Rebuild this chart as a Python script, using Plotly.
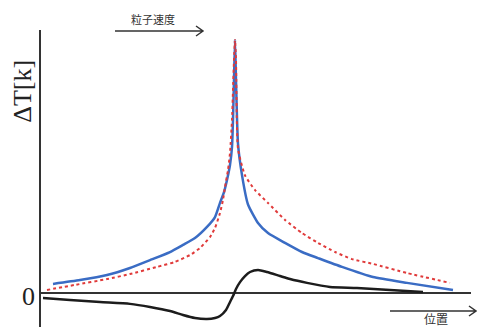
import plotly.graph_objects as go

# Position (arbitrary units, peak at 0) and ΔT [K]
blue_x = [-18.2, -15.5, -12.8, -10.5, -8.5, -6.5, -5.2, -4.0, -2.8, -2.0, -1.5, -1.1, -0.8, -0.5, -0.3, -0.2, -0.1, 0.0,
          0.1, 0.3, 0.7, 1.3, 2.3, 3.3, 5.0, 6.7, 8.3, 10.7, 13.8, 17.2, 21.8]
blue_y = [0.36, 0.51, 0.71, 0.99, 1.30, 1.62, 1.90, 2.17, 2.61, 3.00, 3.56, 3.99, 4.47, 5.06, 5.77, 6.84, 8.42, 10.0,
          8.42, 5.90, 4.66, 3.50, 2.77, 2.37, 1.98, 1.62, 1.38, 1.03, 0.63, 0.40, 0.12]

red_x = [-18.8, -16.0, -12.8, -10.5, -7.8, -6.0, -4.5, -3.5, -2.5, -2.0, -1.5, -1.2, -1.0, -0.7, -0.5, -0.3, -0.2, -0.1, 0.0,
         0.1, 0.3, 1.0, 2.0, 3.3, 5.0, 6.7, 8.3, 10.0, 11.7, 13.8, 17.2, 21.5]
red_y = [0.12, 0.32, 0.55, 0.75, 1.03, 1.23, 1.50, 1.78, 2.21, 2.57, 3.16, 3.68, 4.19, 4.86, 5.53, 6.84, 8.02, 9.21, 10.0,
         9.21, 5.70, 4.65, 4.07, 3.56, 2.89, 2.37, 1.98, 1.62, 1.34, 1.15, 0.79, 0.40]

black_x = [-19.2, -16.5, -13.5, -10.5, -8.5, -6.5, -5.2, -4.0, -2.8, -2.0, -1.5, -0.9, -0.5, -0.2, 0.1, 0.5, 1.0, 1.5,
           2.3, 3.2, 4.5, 5.5, 7.2, 9.5, 12.2, 15.5, 18.8]
black_y = [-0.20, -0.28, -0.36, -0.43, -0.55, -0.71, -0.87, -0.99, -1.03, -0.99, -0.91, -0.67, -0.36, -0.12, 0.16, 0.43,
           0.67, 0.83, 0.91, 0.83, 0.67, 0.55, 0.40, 0.24, 0.20, 0.12, 0.04]

y_label = "ΔT[k]"
zero_label = "0"
top_label = "粒子速度"
bottom_label = "位置"

fig = go.Figure()
fig.add_trace(go.Scatter(x=black_x, y=black_y, mode="lines",
                         line=dict(color="#1c1c1c", width=2.5, shape="spline", smoothing=0.6)))
fig.add_trace(go.Scatter(x=blue_x, y=blue_y, mode="lines",
                         line=dict(color="#3a6cc4", width=2.5, shape="spline", smoothing=0.5)))
fig.add_trace(go.Scatter(x=red_x, y=red_y, mode="lines",
                         line=dict(color="#e03a3a", width=2, dash="dot", shape="spline", smoothing=0.5)))

ann_font_serif = dict(family="Liberation Serif, Times New Roman, serif", color="#222")
ann_font_cjk = dict(family="Noto Sans CJK JP, Noto Sans CJK SC, sans-serif", color="#333", size=11)

fig.update_layout(
    width=477, height=327,
    margin=dict(l=41, r=6, t=30, b=0, autoexpand=False),
    paper_bgcolor="white", plot_bgcolor="white",
    showlegend=False,
    xaxis=dict(range=[-19.4, 23.6], showgrid=False, zeroline=False, showline=False,
               showticklabels=False, ticks="", automargin=False),
    yaxis=dict(range=[-1.344, 10.395], showgrid=False, zeroline=True, zerolinecolor="#333",
               zerolinewidth=1.5, showline=True, linecolor="#333", linewidth=1.5,
               showticklabels=False, ticks="", automargin=False),
    annotations=[
        dict(text=y_label, xref="paper", yref="paper", x=-0.042, y=0.795, textangle=-90,
             showarrow=False, xanchor="center", yanchor="middle", font=dict(size=26, **ann_font_serif)),
        dict(text=zero_label, xref="paper", yref="paper", x=-0.030, y=0.104,
             showarrow=False, xanchor="center", yanchor="middle", font=dict(size=26, **ann_font_serif)),
        dict(text=top_label, xref="paper", yref="paper", x=0.2605, y=1.037,
             showarrow=False, xanchor="center", yanchor="middle", font=ann_font_cjk),
        dict(text=bottom_label, xref="paper", yref="paper", x=0.9186, y=0.030,
             showarrow=False, xanchor="center", yanchor="middle", font=dict(ann_font_cjk, size=12)),
    ],
    shapes=[
        dict(type="path", xref="paper", yref="paper",
             path="M 0.1721,0.9966 L 0.3767,0.9966 M 0.3605,1.0135 L 0.3767,0.9966 L 0.3605,0.9798",
             line=dict(color="#333", width=1.5)),
        dict(type="path", xref="paper", yref="paper",
             path="M 0.8116,0.0539 L 1.0116,0.0539 M 0.9953,0.0707 L 1.0116,0.0539 L 0.9953,0.0370",
             line=dict(color="#333", width=1.5)),
    ],
)

fig.write_html("out.html", config={"displayModeBar": False},
               post_script="document.body.style.margin='0';document.body.style.overflow='hidden';")
